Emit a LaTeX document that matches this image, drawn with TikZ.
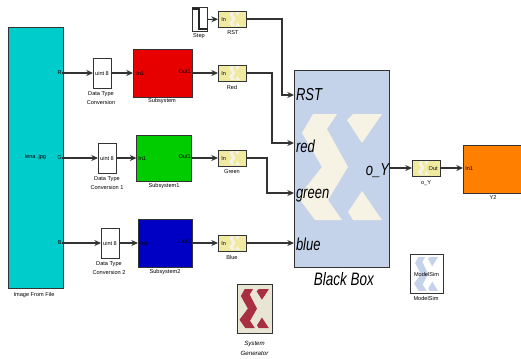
\documentclass[tikz,border=0pt]{standalone}
\usepackage{fontspec}
\setmainfont{Liberation Sans}
\newfontfamily\portfont[FakeStretch=0.75]{Liberation Sans}
\usetikzlibrary{arrows.meta}

\definecolor{imgcyan}{HTML}{00CCCC}
\definecolor{subred}{HTML}{E60000}
\definecolor{subgreen}{HTML}{00CC00}
\definecolor{subblue}{HTML}{0000C4}
\definecolor{suborange}{HTML}{FF8000}
\definecolor{gateyellow}{HTML}{F0EAA0}
\definecolor{bboxblue}{HTML}{C5D3EA}
\definecolor{logocream}{HTML}{F6F2E4}
\definecolor{sysgenbg}{HTML}{E8E5D5}
\definecolor{logored}{HTML}{A82E42}

\tikzset{
    blockbox/.style={draw=black!80,line width=0.7pt,inner sep=0pt,outer sep=0pt},
    wire/.style={-{Stealth[length=5pt,width=4.5pt]},black!80,line width=0.8pt},
    tinytext/.style={font=\fontsize{4.2}{6.4}\selectfont,inner sep=0pt,align=center,text=black},
    porttext/.style={font=\portfont\itshape\fontsize{13}{15}\selectfont,inner xsep=1.5pt,inner ysep=0pt,outer sep=0pt,text=black},
    gatebox/.style={blockbox,fill=gateyellow,minimum width=21pt,minimum height=12pt}
}

\newcommand{\xlogo}[5]{%
    \fill[#5,shift={(#1,#2)},xscale=#3,yscale=#4]
    (15,0) -- (39,0) -- (29,15) -- (50,53) -- (30,86) -- (44,106) -- (17,106) -- (0,83) -- (24,53) -- (4,19) -- cycle
    (55,0) -- (84,0) -- (64,29) -- (49,6) -- cycle
    (64,77) -- (84,106) -- (55,106) -- (50,98) -- cycle;%
}

\begin{document}
\begin{tikzpicture}[x=0.75pt,y=-0.75pt]
    \clip (0,0) rectangle (521,358);

    \node[blockbox,fill=imgcyan,minimum width=41.25pt,minimum height=195.75pt,font=\fontsize{4.2}{5}\selectfont] (image) at (35.5,157.5) {lena .jpg};
    \node[tinytext,anchor=east] (imgR) at (62,73) {R};
    \node[tinytext,anchor=east] (imgG) at (62,158) {G};
    \node[tinytext,anchor=east] (imgB) at (62,243) {B};
    \node[tinytext] (imagelbl) at (34,295) {Image From File};

    \node[blockbox,fill=white,minimum width=13.5pt,minimum height=22.5pt,font=\fontsize{4.2}{5}\selectfont] (dtcR) at (102,73) {uint 8};
    \node[blockbox,fill=white,minimum width=13.5pt,minimum height=22.5pt,font=\fontsize{4.2}{5}\selectfont] (dtcG) at (107,158) {uint 8};
    \node[blockbox,fill=white,minimum width=13.5pt,minimum height=22.5pt,font=\fontsize{4.2}{5}\selectfont] (dtcB) at (110,243) {uint 8};
    \node[tinytext] (dtcRlbl) at (101,98) {Data Type\\Conversion};
    \node[tinytext] (dtcGlbl) at (107,183) {Data Type\\Conversion 1};
    \node[tinytext] (dtcBlbl) at (109,268) {Data Type\\Conversion 2};

    \node[blockbox,fill=subred,minimum width=44.25pt,minimum height=36pt] (subR) at (162.5,73) {};
    \node[blockbox,fill=subgreen,minimum width=41.25pt,minimum height=34.5pt] (subG) at (164,158) {};
    \node[blockbox,fill=subblue,minimum width=40.5pt,minimum height=36pt] (subB) at (165,243) {};
    \node[tinytext,anchor=west] (subRin) at (136,74) {In1};
    \node[tinytext,anchor=east] (subRout) at (191,72) {Out1};
    \node[tinytext,anchor=west] (subGin) at (138,159) {In1};
    \node[tinytext,anchor=east] (subGout) at (191,157) {Out1};
    \node[tinytext,anchor=west] (subBin) at (140,244) {In1};
    \node[tinytext,anchor=east] (subBout) at (191,242) {Out1};
    \node[tinytext] (subRlbl) at (162,101) {Subsystem};
    \node[tinytext] (subGlbl) at (164,186) {Subsystem1};
    \node[tinytext] (subBlbl) at (165,272) {Subsystem2};

    \node[blockbox,fill=white,minimum width=11.25pt,minimum height=18pt] (step) at (199.5,19.5) {};
    \draw[black!85,line width=1pt] (192,9) -- (199,9) -- (199,29) -- (207,29);
    \node[tinytext] (steplbl) at (199,36) {Step};

    \node[gatebox] (inRST) at (232,19) {};
    \node[gatebox] (inR) at (232,73) {};
    \node[gatebox] (inG) at (232,158) {};
    \node[gatebox] (inB) at (232,243) {};
    \xlogo{229}{12}{0.13}{0.13}{logocream}
    \xlogo{229}{66}{0.13}{0.13}{logocream}
    \xlogo{229}{151}{0.13}{0.13}{logocream}
    \xlogo{229}{236}{0.13}{0.13}{logocream}
    \node[tinytext,anchor=west] (inRSTtxt) at (221,20) {In};
    \node[tinytext,anchor=west] (inRtxt) at (221,74) {In};
    \node[tinytext,anchor=west] (inGtxt) at (221,159) {In};
    \node[tinytext,anchor=west] (inBtxt) at (221,244) {In};
    \node[tinytext] (inRSTlbl) at (233,33) {RST};
    \node[tinytext] (inRlbl) at (232,87) {Red};
    \node[tinytext] (inGlbl) at (232,172) {Green};
    \node[tinytext] (inBlbl) at (232,257) {Blue};

    \node[blockbox,fill=bboxblue,minimum width=71.25pt,minimum height=147.75pt] (bbox) at (341.5,168.5) {};
    \xlogo{298}{114}{1}{1}{logocream}
    \node[porttext,anchor=west] (rst) at (294,95) {RST};
    \node[porttext,anchor=west] (red) at (294,146) {red};
    \node[porttext,anchor=west] (green) at (294,196) {green};
    \node[porttext,anchor=west] (blue) at (294,244) {blue};
    \node[porttext,anchor=east,inner xsep=0pt] (oY) at (389,171) {o\_Y};
    \node[font=\portfont\itshape\fontsize{13.5}{15}\selectfont,inner sep=0pt,text=black] (bboxlbl) at (344,279) {Black Box};

    \node[gatebox] (outY) at (426,168) {};
    \xlogo{418}{161}{0.13}{0.13}{logocream}
    \node[tinytext,anchor=east] (outYtxt) at (438,169) {Out};
    \node[tinytext] (outYlbl) at (426,183) {o\_Y};

    \node[blockbox,fill=suborange,minimum width=51pt,minimum height=36pt] (y2) at (497,169) {};
    \node[tinytext,anchor=west] (y2in) at (465,169) {In1};
    \node[tinytext] (y2lbl) at (493,198) {Y2};

    \node[blockbox,fill=white,minimum width=24.75pt,minimum height=29.25pt] (msim) at (426.5,273.5) {};
    \xlogo{414}{257}{0.286}{0.32}{bboxblue}
    \node[tinytext] (msimtxt) at (426.5,274) {ModelSim};
    \node[tinytext] (msimlbl) at (426,298) {ModelSim};

    \node[blockbox,fill=sysgenbg,minimum width=26.25pt,minimum height=36.75pt] (sysgen) at (254.5,308.5) {};
    \xlogo{239.5}{289}{0.35}{0.37}{logored}
    \node[tinytext,font=\itshape\fontsize{4.6}{7.5}\selectfont] (sysgenlbl) at (254.5,348) {System\\Generator};

    \coordinate (bendRST) at (282,95);
    \coordinate (bendR) at (272,143);
    \coordinate (bendG) at (267,193);

    \path[wire]
    (imgR.east) edge (dtcR)
    (imgG.east) edge (dtcG)
    (imgB.east) edge (dtcB)
    (dtcR) edge (subR)
    (dtcG) edge (subG)
    (dtcB) edge (subB)
    (subR) edge (inR)
    (subG) edge (inG)
    (subB) edge (inB)
    (step) edge (inRST)
    (inB) edge (blue.west |- inB)
    (bbox.east |- outY) edge (outY)
    (outY) edge (y2.west |- outY);

    \draw[wire] (inRST) -| (bendRST) -- (rst.west);
    \draw[wire] (inR) -| (bendR) -- (red.west |- bendR);
    \draw[wire] (inG) -| (bendG) -- (green.west |- bendG);
\end{tikzpicture}
\end{document}
